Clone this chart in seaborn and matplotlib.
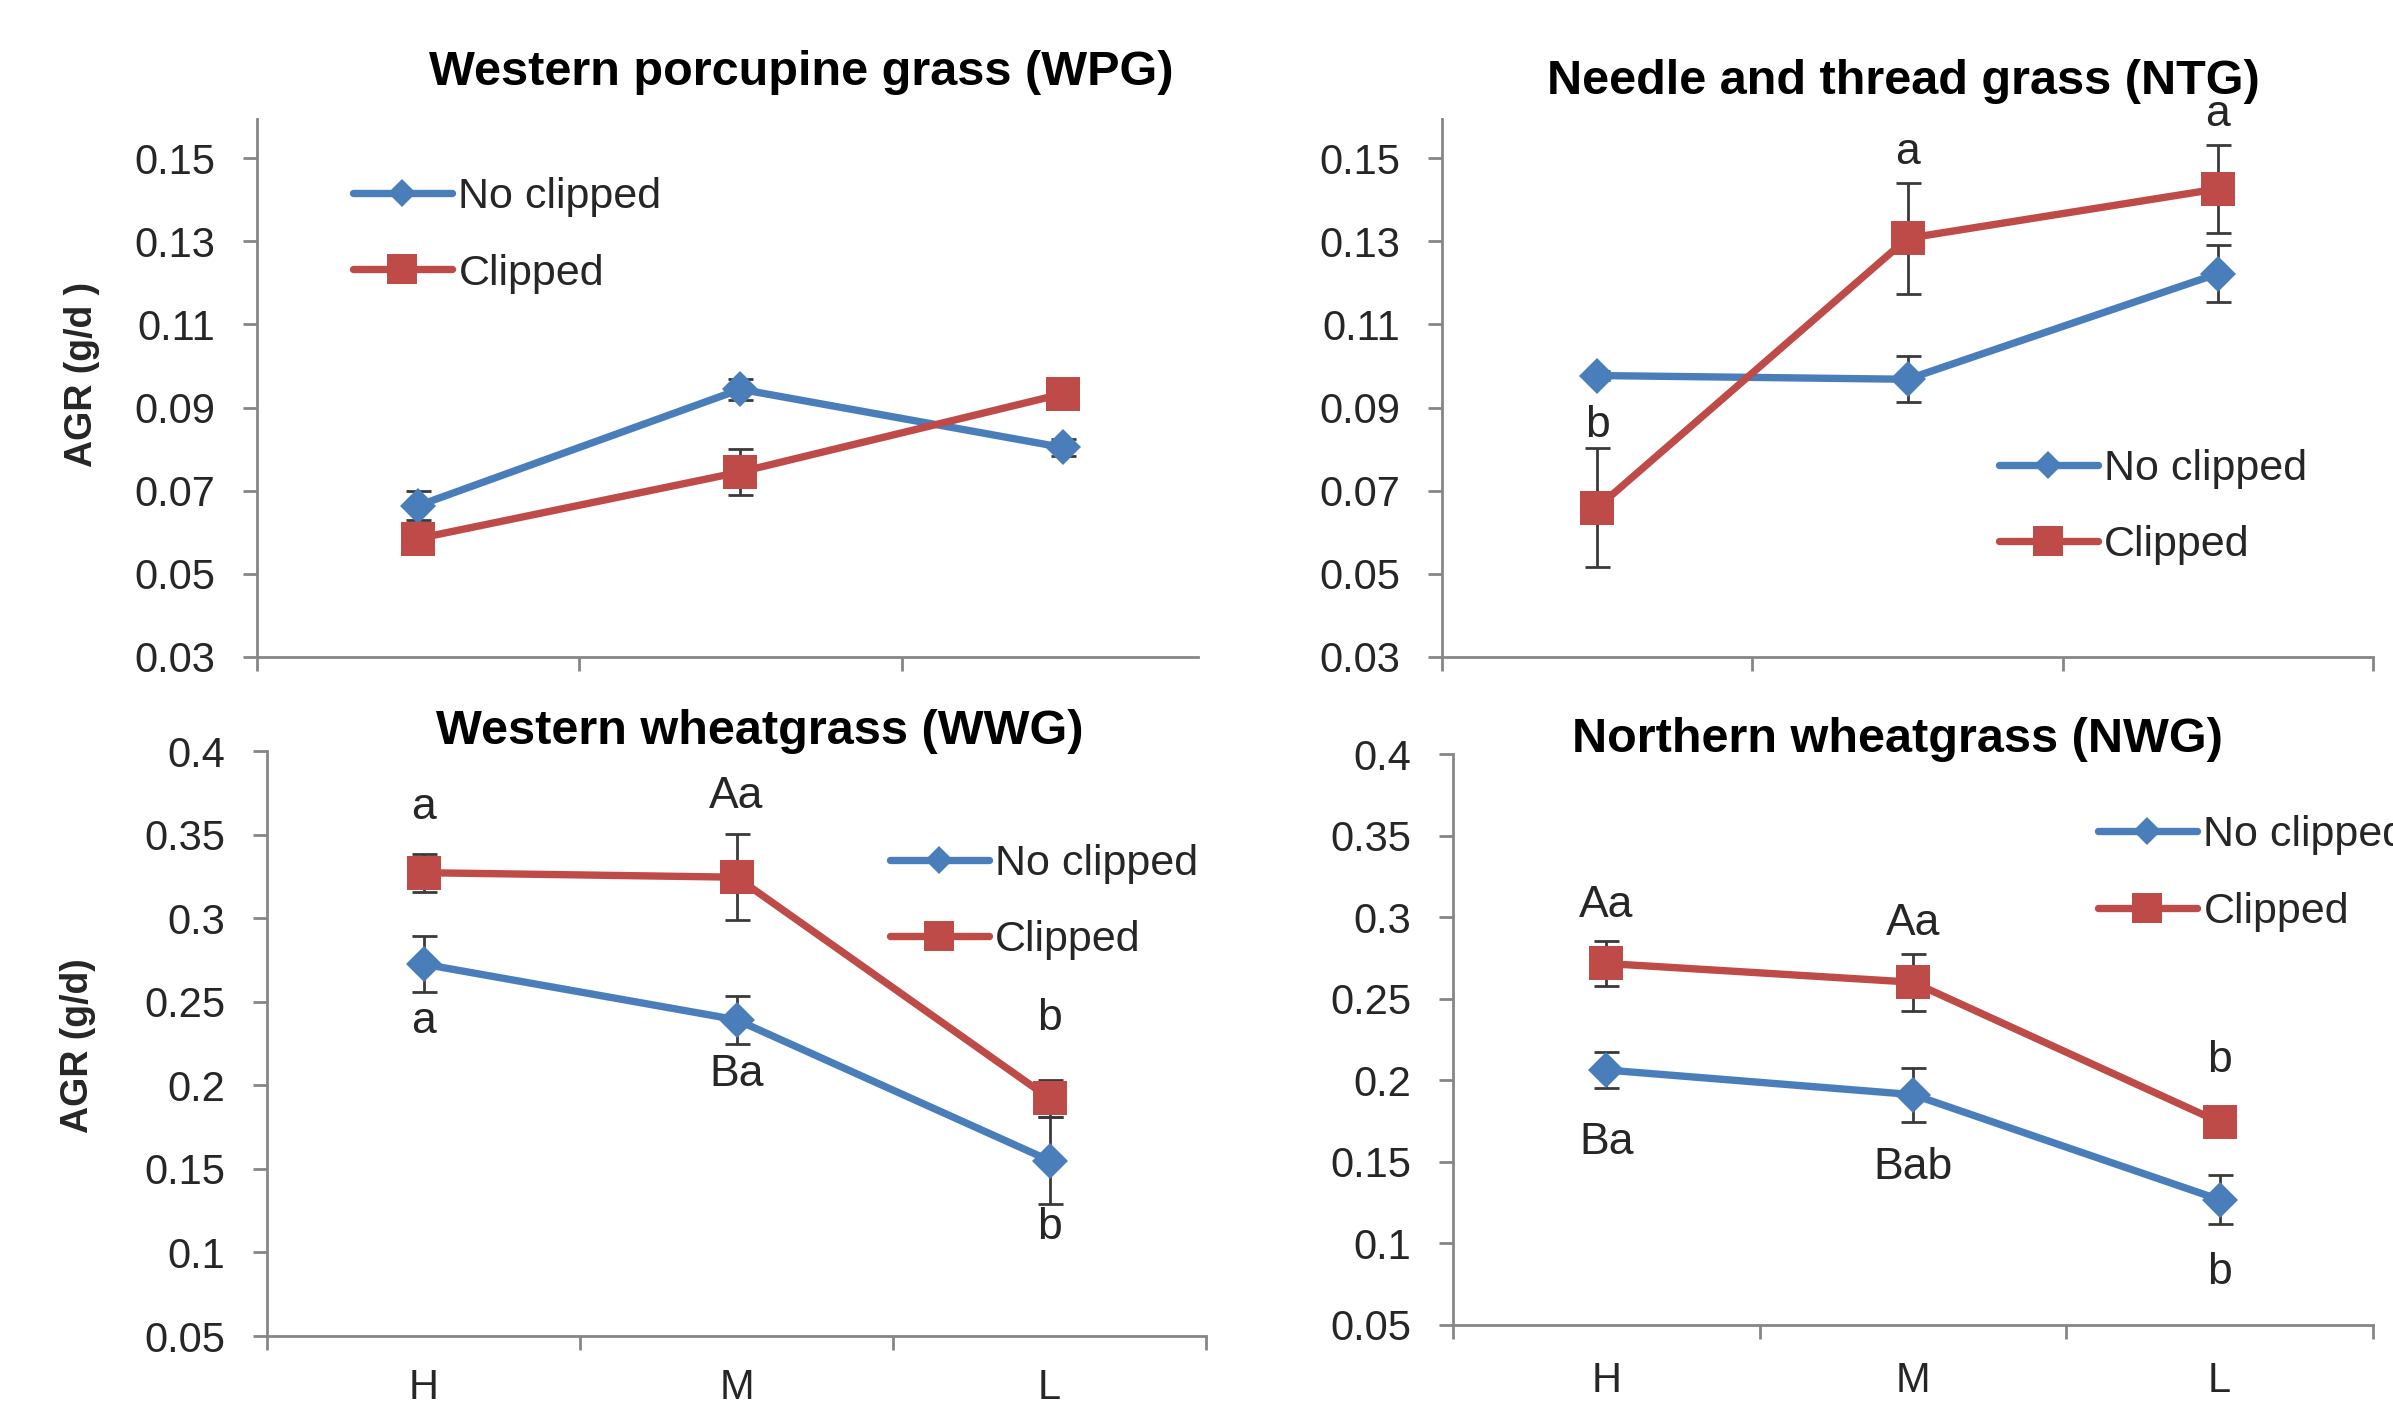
"""AGR of four grass species under clipping, by level (H / M / L)."""

import matplotlib

matplotlib.use("Agg")
import matplotlib.pyplot as plt
import numpy as np
import seaborn as sns

sns.set_style("ticks")
plt.rcParams["font.family"] = ["Liberation Sans", "DejaVu Sans"]

levels = ["H", "M", "L"]
series_names = ["No clipped", "Clipped"]

# Western porcupine grass (WPG)
wpg_no = [0.0664, 0.0944, 0.0804]
wpg_no_se = [0.0035, 0.0025, 0.0020]
wpg_cl = [0.0585, 0.0745, 0.0933]
wpg_cl_se = [0.0012, 0.0055, 0.0012]
wpg_letters = []

# Needle and thread grass (NTG)
ntg_no = [0.0977, 0.0968, 0.1222]
ntg_no_se = [0.0010, 0.0055, 0.0068]
ntg_cl = [0.0659, 0.1307, 0.1426]
ntg_cl_se = [0.0143, 0.0134, 0.0106]
ntg_letters = [("b", 0, 0.0858), ("a", 1, 0.1514), ("a", 2, 0.1606)]

# Western wheatgrass (WWG)
wwg_no = [0.2725, 0.2392, 0.1550]
wwg_no_se = [0.0168, 0.0143, 0.0260]
wwg_cl = [0.3272, 0.3245, 0.1922]
wwg_cl_se = [0.0113, 0.0259, 0.0110]
wwg_letters = [("a", 0, 0.366), ("Aa", 1, 0.3726), ("b", 2, 0.2397),
               ("a", 0, 0.2384), ("Ba", 1, 0.2062), ("b", 2, 0.1147)]

# Northern wheatgrass (NWG)
nwg_no = [0.2063, 0.1912, 0.1268]
nwg_no_se = [0.0110, 0.0166, 0.0150]
nwg_cl = [0.2716, 0.2601, 0.1743]
nwg_cl_se = [0.0139, 0.0175, 0.0040]
nwg_letters = [("Aa", 0, 0.3074), ("Aa", 1, 0.2964), ("b", 2, 0.2124),
               ("Ba", 0, 0.1617), ("Bab", 1, 0.1466), ("b", 2, 0.0822)]

BLUE = "#4A7EBB"
RED = "#BE4B48"
AXIS_GREY = "#868686"
TEXT = "#262626"

W, H = 2393, 1402


def _rect(left, top, right, bottom):
    """Pixel box -> figure fraction rect."""
    return [left / W, 1 - bottom / H, (right - left) / W, (bottom - top) / H]


def draw_panel(ax, no_vals, no_se, cl_vals, cl_se, letters, title, title_xy,
               legend_xy, ylim, yticks, xmax, show_x, ylabel=None, ylabel_xy=None,
               xlabel_pad=23):
    x = np.arange(len(levels))
    for vals, se, name, color, marker, ms in (
        (no_vals, no_se, series_names[0], BLUE, "D", 18),
        (cl_vals, cl_se, series_names[1], RED, "s", 25),
    ):
        ax.errorbar(x, vals, yerr=se, fmt="none", ecolor="#3a3a3a",
                    elinewidth=2, capsize=9, capthick=2, zorder=2)
        sns.lineplot(x=x, y=vals, ax=ax, color=color, marker=marker,
                     markersize=ms, markeredgecolor=color, markeredgewidth=0,
                     linewidth=5.3, label=name, errorbar=None, zorder=3)

    for txt, i, y in letters:
        ax.text(i, y, txt, ha="center", va="center", fontsize=32, color=TEXT)

    ax.set_yticks(yticks)
    ax.set_yticklabels([f"{v:g}" for v in yticks])
    ax.set_xticks([-0.5, 0.5, 1.5, 2.5])
    ax.set_xticklabels([])
    ax.set_xticks(x, minor=True)
    ax.set_xticklabels(levels if show_x else [], minor=True)
    ax.set_xlim(-0.5, xmax)
    ax.set_ylim(*ylim)
    ax.tick_params(axis="x", which="minor", length=0, pad=xlabel_pad,
                   labelsize=30, labelcolor=TEXT)
    ax.tick_params(axis="x", which="major", length=10, width=2, color=AXIS_GREY)
    ax.tick_params(axis="y", length=10, width=2, color=AXIS_GREY,
                   labelsize=30, labelcolor=TEXT, pad=20)

    sns.despine(ax=ax)
    for side in ("left", "bottom"):
        ax.spines[side].set_color(AXIS_GREY)
        ax.spines[side].set_linewidth(2)

    ax.set_xlabel("")
    ax.set_ylabel("")
    if ylabel:
        ax.set_ylabel(ylabel, fontsize=27, fontweight="bold", color=TEXT)
        ax.yaxis.set_label_coords(*ylabel_xy)

    ax.set_title(title, x=title_xy[0], y=title_xy[1], va="center", pad=0,
                 fontsize=35, fontweight="bold", color="black")

    leg = ax.legend(loc="center left", bbox_to_anchor=legend_xy, frameon=False,
                    fontsize=31, handlelength=2.3, handletextpad=0.15,
                    labelspacing=0.85, borderpad=0, borderaxespad=0)
    for handle, ms in zip(leg.legend_handles, (14, 21)):
        handle.set_markersize(ms)


def main() -> None:
    fig = plt.figure(figsize=(W / 100, H / 100), dpi=100)

    ax_tl = fig.add_axes(_rect(257, 119, 1198, 657))
    ax_tr = fig.add_axes(_rect(1442, 119, 2373, 657))
    ax_bl = fig.add_axes(_rect(267, 751, 1206, 1336))
    ax_br = fig.add_axes(_rect(1453, 754, 2373, 1325))

    top_ticks = [0.03, 0.05, 0.07, 0.09, 0.11, 0.13, 0.15]
    bot_ticks = [0.05, 0.1, 0.15, 0.2, 0.25, 0.3, 0.35, 0.4]

    draw_panel(ax_tl, wpg_no, wpg_no_se, wpg_cl, wpg_cl_se, wpg_letters,
               "Western porcupine grass (WPG)", (0.578, 1.087), (0.102, 0.784),
               (0.03, 0.1594), top_ticks, 2.42, False,
               ylabel="AGR (g/d )", ylabel_xy=(-0.167, 0.526))
    draw_panel(ax_tr, ntg_no, ntg_no_se, ntg_cl, ntg_cl_se, ntg_letters,
               "Needle and thread grass (NTG)", (0.496, 1.069), (0.598, 0.279),
               (0.03, 0.1594), top_ticks, 2.5, False)
    draw_panel(ax_bl, wwg_no, wwg_no_se, wwg_cl, wwg_cl_se, wwg_letters,
               "Western wheatgrass (WWG)", (0.525, 1.034), (0.663, 0.742),
               (0.05, 0.4), bot_ticks, 2.5, True,
               ylabel="AGR (g/d)", ylabel_xy=(-0.182, 0.497))
    draw_panel(ax_br, nwg_no, nwg_no_se, nwg_cl, nwg_cl_se, nwg_letters,
               "Northern wheatgrass (NWG)", (0.483, 1.026), (0.701, 0.791),
               (0.05, 0.4), bot_ticks, 2.5, True, xlabel_pad=26)

    fig.savefig("out.png", dpi=100)
    plt.close(fig)


if __name__ == "__main__":
    main()
